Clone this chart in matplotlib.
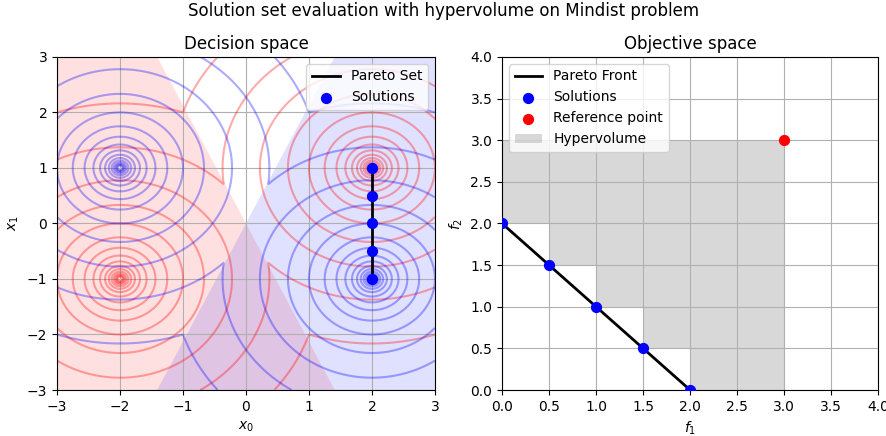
import numpy as np
from matplotlib import pyplot as plt

# Mindist problem: objective i = distance to the nearest target point of set i
red_targets = [(-2, -1), (2, 1)]
blue_targets = [(-2, 1), (2, -1)]

# regions shaded in decision space (corner points)
red_region = [(-3, -3), (-3, 3), (-1.41, 3), (1.41, -3)]
blue_region = [(3, -3), (3, 3), (1.41, 3), (-1.41, -3)]

# solutions in decision space
sol_x0 = [2, 2, 2, 2, 2]
sol_x1 = [1, 0.5, 0, -0.5, -1]

# the same solutions in objective space
sol_f1 = [0.0, 0.5, 1.0, 1.5, 2.0]
sol_f2 = [2.0, 1.5, 1.0, 0.5, 0.0]

ref_point = (3, 3)


def mindist(X, Y, targets):
    d = [np.sqrt((X - tx) ** 2 + (Y - ty) ** 2) for tx, ty in targets]
    return np.min(d, axis=0)


xs = np.linspace(-3, 3, 600)
X, Y = np.meshgrid(xs, xs)
F_red = mindist(X, Y, red_targets)
F_blue = mindist(X, Y, blue_targets)
levels = 10 ** (np.arange(-11, 5) / 8)

fig = plt.figure(figsize=(8.87, 4.36), dpi=100)
fig.suptitle("Solution set evaluation with hypervolume on Mindist problem", y=0.995)

# ---- decision space
ax = fig.add_axes([0.0643, 0.1055, 0.426, 0.764])
ax.fill(*zip(*red_region), color="red", alpha=0.12, lw=0)
ax.fill(*zip(*blue_region), color="blue", alpha=0.12, lw=0)
ax.contour(X, Y, F_red, levels=levels, colors="red", alpha=0.33, linewidths=1.5)
ax.contour(X, Y, F_blue, levels=levels, colors="blue", alpha=0.33, linewidths=1.5)
ax.plot(sol_x0, sol_x1, color="black", lw=2, label="Pareto Set")
ax.scatter(sol_x0, sol_x1, color="blue", s=50, zorder=3, label="Solutions")
ax.set_xlim(-3, 3)
ax.set_ylim(-3, 3)
ax.grid(True)
ax.set_title("Decision space")
ax.set_xlabel("$x_0$")
ax.set_ylabel("$x_1$")
ax.legend(loc="upper right")

# ---- objective space
ax = fig.add_axes([0.566, 0.1055, 0.424, 0.764])
hv_x = sol_f1 + [ref_point[0]]
hv_y = sol_f2 + [sol_f2[-1]]
ax.fill_between(hv_x, hv_y, ref_point[1], step="post", color="gray", alpha=0.3,
                lw=0, label="Hypervolume")
ax.plot(sol_f1, sol_f2, color="black", lw=2, label="Pareto Front")
ax.scatter(sol_f1, sol_f2, color="blue", s=50, zorder=3, label="Solutions")
ax.scatter([ref_point[0]], [ref_point[1]], color="red", s=50, zorder=3, label="Reference point")
ax.set_xlim(0, 4)
ax.set_ylim(0, 4)
ax.grid(True)
ax.set_title("Objective space")
ax.set_xlabel("$f_1$")
ax.set_ylabel("$f_2$")
h, l = ax.get_legend_handles_labels()
order = [l.index(s) for s in ["Pareto Front", "Solutions", "Reference point", "Hypervolume"]]
ax.legend([h[i] for i in order], [l[i] for i in order], loc="upper left")

fig.savefig("out.png", dpi=100)
